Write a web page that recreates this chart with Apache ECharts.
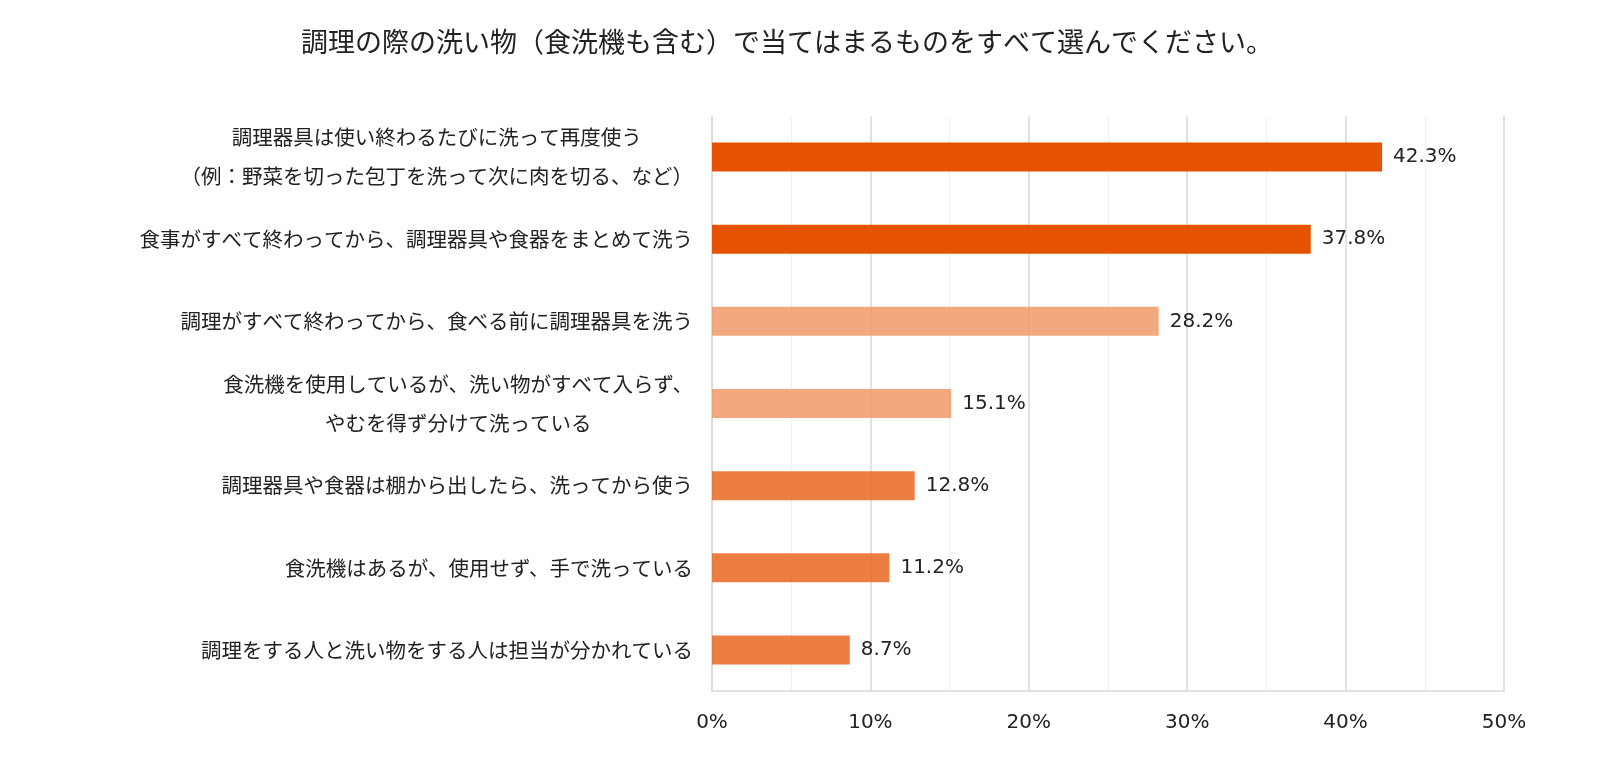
<!DOCTYPE html>
<html><head><meta charset="utf-8">
<script src="https://cdn.jsdelivr.net/npm/echarts@6/dist/echarts.min.js"></script>
<style>html,body{margin:0;padding:0;background:#fff}#c{width:1600px;height:780px}</style>
</head><body><div id="c"></div>
<script>
const titleText = '調理の際の洗い物（食洗機も含む）で当てはまるものをすべて選んでください。';
const categories = [
  '調理器具は使い終わるたびに洗って再度使う\n（例：野菜を切った包丁を洗って次に肉を切る、など）',
  '食事がすべて終わってから、調理器具や食器をまとめて洗う',
  '調理がすべて終わってから、食べる前に調理器具を洗う',
  '食洗機を使用しているが、洗い物がすべて入らず、\nやむを得ず分けて洗っている',
  '調理器具や食器は棚から出したら、洗ってから使う',
  '食洗機はあるが、使用せず、手で洗っている',
  '調理をする人と洗い物をする人は担当が分かれている'
];
const values = [42.3, 37.8, 28.2, 15.1, 12.8, 11.2, 8.7];
const barColors = ['#E65300', '#E65300', 'rgba(241,154,106,0.85)', 'rgba(241,154,106,0.85)',
  'rgba(234,103,33,0.85)', 'rgba(234,103,33,0.85)', 'rgba(234,103,33,0.85)'];
const xTicks = [0, 10, 20, 30, 40, 50];

const jp = '"Noto Sans CJK JP", "Noto Sans", sans-serif';
const num = '"DejaVu Sans", Verdana, sans-serif';
const chart = echarts.init(document.getElementById('c'));
chart.setOption({
  animation: false,
  title: {
    text: titleText, left: 296, top: 23,
    textStyle: { fontSize: 27, fontWeight: 'normal', color: '#222', fontFamily: jp }
  },
  grid: { left: 712, right: 96, top: 116, bottom: 89, containLabel: false },
  xAxis: {
    type: 'value', min: xTicks[0], max: xTicks[xTicks.length - 1], interval: 10,
    axisLine: { show: true, lineStyle: { color: '#d9d9d9', width: 1.5 } },
    axisTick: { show: false },
    axisLabel: { formatter: '{value}%', fontSize: 20, color: '#222', margin: 22, fontFamily: num },
    splitLine: { show: true, lineStyle: { color: '#d9d9d9', width: 1.5 } },
    minorTick: { show: false, splitNumber: 2 },
    minorSplitLine: { show: true, lineStyle: { color: '#f0f0f0', width: 1 } }
  },
  yAxis: {
    type: 'category', data: categories, inverse: true,
    axisLine: { show: true, lineStyle: { color: '#d9d9d9', width: 1.5 } },
    axisTick: { show: false },
    axisLabel: {
      fontSize: 20.5, color: '#222', margin: 19, align: 'right', fontFamily: jp,
      formatter: v => v.split('\n').map(s => '{c|' + s + '}').join('\n'),
      rich: { c: { align: 'center', fontSize: 20.5, lineHeight: 39, color: '#222', fontFamily: jp } }
    },
    splitLine: { show: false }
  },
  series: [{
    type: 'bar',
    data: values.map((v, i) => ({ value: v, itemStyle: { color: barColors[i] } })),
    barWidth: 29,
    label: { show: true, position: 'right', distance: 11, formatter: p => p.value.toFixed(1) + '%',
      fontSize: 20, color: '#222', fontFamily: num }
  }]
});
</script></body></html>
